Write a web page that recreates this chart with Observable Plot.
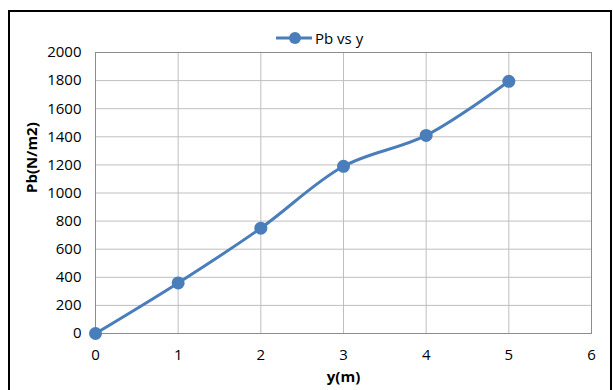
<!DOCTYPE html>
<html>
<head>
<meta charset="utf-8">
<script src="https://cdn.jsdelivr.net/npm/d3@7"></script>
<script src="https://cdn.jsdelivr.net/npm/@observablehq/plot@0.6"></script>
<style>
  html, body { margin: 0; padding: 0; background: #fff; }
  #wrap { position: relative; width: 613px; height: 390px; overflow: hidden; font-family: "Open Sans", sans-serif; }
  #border { position: absolute; left: 8px; top: 10px; width: 604px; height: 400px; border: 2px solid #000; box-sizing: border-box; }
  #legend { position: absolute; left: 276px; top: 28px; display: flex; align-items: center; font-size: 15px; color: #000; }
  #legend span { margin-left: 3px; }
  #chart { position: absolute; left: 0; top: 0; }
</style>
</head>
<body>
<div id="wrap">
  <div id="border"></div>
  <div id="chart"></div>
  <div id="legend"></div>
</div>
<script>
const seriesName = "Pb vs y";
const yMeters = [0, 1, 2, 3, 4, 5];
const pbValues = [0, 360, 750, 1190, 1410, 1795];
const xTicks = [0, 1, 2, 3, 4, 5, 6];
const yTicks = [0, 200, 400, 600, 800, 1000, 1200, 1400, 1600, 1800, 2000];
const xTitle = "y(m)";
const yTitle = "Pb(N/m2)";
const lineColor = "#4a7ebb";

const data = yMeters.map((x, i) => ({x, y: pbValues[i]}));

const chart = Plot.plot({
  width: 613,
  height: 390,
  marginLeft: 95,
  marginRight: 22,
  marginTop: 52,
  marginBottom: 57,
  style: {fontFamily: "'Open Sans', sans-serif", fontSize: "15px", color: "#000", background: "transparent"},
  x: {domain: [0, 6]},
  y: {domain: [0, 2000]},
  marks: [
    Plot.gridX(xTicks, {stroke: "#bfbfbf", strokeOpacity: 1}),
    Plot.gridY(yTicks, {stroke: "#bfbfbf", strokeOpacity: 1}),
    Plot.frame({stroke: "#8c8c8c"}),
    Plot.axisX(xTicks, {tickSize: 0, tickPadding: 16, label: null, fontSize: 15, tickFormat: d => String(d)}),
    Plot.axisY(yTicks, {tickSize: 0, tickPadding: 14, label: null, fontSize: 15, tickFormat: d => String(d)}),
    Plot.text([xTitle], {frameAnchor: "bottom", dy: 48, fontWeight: "bold", fontSize: 15}),
    Plot.text([yTitle], {frameAnchor: "left", dx: -63, rotate: -90, fontWeight: "bold", fontSize: 15}),
    Plot.line(data, {x: "x", y: "y", curve: "catmull-rom", stroke: lineColor, strokeWidth: 3}),
    Plot.dot(data, {x: "x", y: "y", r: 6.5, fill: lineColor, stroke: "none"})
  ]
});
document.getElementById("chart").appendChild(chart);

const legend = document.getElementById("legend");
legend.innerHTML = `<svg width="36" height="16"><line x1="0" x2="36" y1="8" y2="8" stroke="${lineColor}" stroke-width="3"/><circle cx="19" cy="8" r="6" fill="${lineColor}"/></svg><span>${seriesName}</span>`;
</script>
</body>
</html>
